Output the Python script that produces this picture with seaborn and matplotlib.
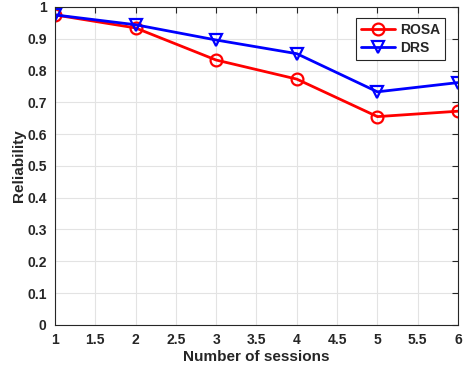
import matplotlib
matplotlib.use("Agg")
import matplotlib.pyplot as plt
import pandas as pd
import seaborn as sns

sessions = [1, 2, 3, 4, 5, 6]
rosa = [0.975, 0.934, 0.833, 0.773, 0.655, 0.672]
drs = [0.975, 0.944, 0.896, 0.853, 0.733, 0.762]

x_ticks = [1, 1.5, 2, 2.5, 3, 3.5, 4, 4.5, 5, 5.5, 6]
x_tick_labels = ["1", "1.5", "2", "2.5", "3", "3.5", "4", "4.5", "5", "5.5", "6"]
y_ticks = [0, 0.1, 0.2, 0.3, 0.4, 0.5, 0.6, 0.7, 0.8, 0.9, 1]
y_tick_labels = ["0", "0.1", "0.2", "0.3", "0.4", "0.5", "0.6", "0.7", "0.8", "0.9", "1"]

df = pd.DataFrame({
    "Sessions": sessions * 2,
    "Reliability": rosa + drs,
    "Method": ["ROSA"] * len(sessions) + ["DRS"] * len(sessions),
})

sns.set_style("white")
plt.rcParams["font.family"] = ["Liberation Sans", "DejaVu Sans"]
plt.rcParams["font.weight"] = "bold"

fig = plt.figure(figsize=(4.65, 3.65), dpi=100)
ax = fig.add_axes([0.118, 0.11, 0.867, 0.871])

sns.lineplot(
    data=df, x="Sessions", y="Reliability", hue="Method", style="Method",
    palette={"ROSA": "#ff0000", "DRS": "#0000ff"},
    markers={"ROSA": "o", "DRS": "v"}, dashes=False,
    markersize=8.5, markerfacecolor="none", markeredgewidth=1.6,
    linewidth=2, ax=ax,
)
for line in ax.get_lines():
    line.set_markeredgecolor(line.get_color())

ax.set_xlim(1, 6)
ax.set_ylim(0, 1)
ax.set_xticks(x_ticks)
ax.set_xticklabels(x_tick_labels)
ax.set_yticks(y_ticks)
ax.set_yticklabels(y_tick_labels)
ax.grid(True, color="#e3e3e3", linewidth=0.8)
ax.set_axisbelow(True)
ax.tick_params(direction="in", length=4, width=0.8, colors="#262626",
               labelsize=10, top=True, right=True, pad=6)
for lbl in ax.get_xticklabels() + ax.get_yticklabels():
    lbl.set_fontweight("bold")
for s in ax.spines.values():
    s.set_color("#262626")
    s.set_linewidth(0.8)

ax.set_xlabel("Number of sessions", fontsize=11, fontweight="bold",
              color="#262626", labelpad=2)
ax.set_ylabel("Reliability", fontsize=11, fontweight="bold", color="#262626")
ax.yaxis.set_label_coords(-0.072, 0.5)

leg = ax.legend(loc="upper right", bbox_to_anchor=(0.968, 0.965), fancybox=False,
                edgecolor="#262626", framealpha=1, fontsize=10,
                handlelength=2.4, borderpad=0.35, labelspacing=0.3,
                handletextpad=0.4, borderaxespad=0)
for t in leg.get_texts():
    t.set_fontweight("bold")
leg.get_frame().set_linewidth(0.8)

fig.savefig("out.png", dpi=100)
